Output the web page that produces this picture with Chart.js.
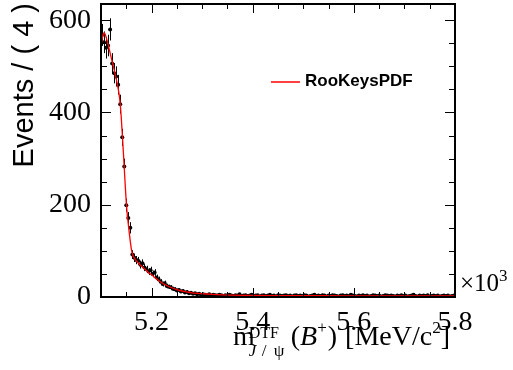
<!DOCTYPE html>
<html>
<head>
<meta charset="utf-8">
<script src="https://cdn.jsdelivr.net/npm/chart.js@4"></script>
<style>
  html, body { margin: 0; padding: 0; background: #fff; }
  canvas { display: block; }
</style>
</head>
<body>
<canvas id="massChart" width="513" height="370"></canvas>
<script>
// binned data, 4 MeV bins from 5100 to 5800 MeV (bin centres)
const binStart = 5102;
const binWidth = 4;
const counts = [
  568, 552, 540, 545, 580, 506, 485, 478, 460, 418,
  346, 283, 199, 171, 150, 92, 85, 80, 78, 70,
  73, 64, 60, 55, 58, 50, 53, 42, 38, 33,
  28, 30, 24, 22, 21, 18, 17, 14, 15, 12,
  13, 10, 11, 8, 9, 7, 8, 6, 7, 5,
  6, 5, 4, 6, 3, 5, 4, 3, 5, 4,
  2, 4, 3, 5, 3, 2, 4, 3, 6, 2,
  3, 4, 2, 3, 5, 2, 3, 4, 1, 3,
  4, 2, 3, 5, 2, 3, 1, 4, 3, 2,
  3, 4, 2, 3, 1, 3, 4, 2, 3, 2,
  4, 3, 1, 2, 3, 5, 2, 3, 2, 4,
  3, 1, 3, 2, 4, 3, 2, 1, 3, 4,
  2, 3, 2, 5, 3, 2, 1, 3, 2, 4,
  2, 3, 1, 2, 4, 3, 2, 3, 1, 2,
  4, 3, 2, 3, 2, 1, 3, 2, 4, 2,
  3, 1, 2, 3, 5, 2, 1, 3, 2, 3,
  2, 4, 1, 2, 3, 2, 3, 1, 2, 3,
  2, 3, 1, 2, 3
];

// RooKeysPDF curve
const curveMass = [5100, 5104, 5106, 5108, 5112, 5116, 5120, 5124, 5128, 5132,
  5136, 5138, 5140, 5142, 5144, 5146, 5148, 5150, 5152, 5154,
  5156, 5158, 5160, 5162, 5164, 5168, 5172, 5176, 5180, 5185,
  5190, 5195, 5200, 5210, 5220, 5230, 5240, 5250, 5260, 5270,
  5280, 5290, 5300, 5320, 5340, 5360, 5380, 5400, 5450, 5500,
  5550, 5600, 5650, 5700, 5750, 5800];
const curveValues = [545, 568, 573, 570, 556, 538, 520, 502, 483, 463,
  438, 418, 390, 355, 318, 280, 240, 205, 178, 158,
  138, 120, 104, 94, 88, 81, 76, 71, 67, 62,
  57, 52, 48, 39, 31, 25, 20, 16, 13, 11,
  9, 8, 7, 5.5, 4.5, 4, 3.6, 3.3, 3, 2.8,
  2.7, 2.6, 2.6, 2.5, 2.5, 2.5];

const xTicks = [5200, 5400, 5600, 5800];
const yTicks = [0, 200, 400, 600];
const xMinorStep = 50;
const yMinorStep = 50;

const points = counts.map((c, i) => ({ x: binStart + i * binWidth, y: c }));
const curve = curveMass.map((m, i) => ({ x: m, y: curveValues[i] }));

const serif = '"Liberation Serif", "DejaVu Serif", serif';
const sans = '"Liberation Sans", Arial, sans-serif';

// vertical sqrt(N) error bars under the markers
const errorBars = {
  id: 'errorBars',
  beforeDatasetsDraw(chart) {
    const { ctx, scales: { x, y } } = chart;
    ctx.save();
    ctx.strokeStyle = '#000';
    ctx.lineWidth = 1;
    counts.forEach((c, i) => {
      const m = binStart + i * binWidth;
      const e = Math.sqrt(c);
      const px = Math.round(x.getPixelForValue(m)) + 0.5;
      ctx.beginPath();
      ctx.moveTo(px, y.getPixelForValue(c + e));
      ctx.lineTo(px, Math.min(y.getPixelForValue(Math.max(c - e, 0)), y.bottom));
      ctx.moveTo(x.getPixelForValue(m - binWidth / 2), y.getPixelForValue(c));
      ctx.lineTo(x.getPixelForValue(m + binWidth / 2), y.getPixelForValue(c));
      ctx.stroke();
    });
    ctx.restore();
  }
};

// ROOT style frame, inward ticks, titles and legend
const rootFrame = {
  id: 'rootFrame',
  afterDraw(chart) {
    const { ctx, chartArea: a, scales: { x, y } } = chart;
    ctx.save();
    ctx.strokeStyle = '#000';
    ctx.lineWidth = 1;
    ctx.beginPath();
    for (let v = x.min; v <= x.max + 0.01; v += xMinorStep) {
      const px = Math.round(x.getPixelForValue(v)) + 0.5;
      const len = xTicks.includes(v) ? 9 : 5;
      ctx.moveTo(px, a.bottom); ctx.lineTo(px, a.bottom - len);
      ctx.moveTo(px, a.top); ctx.lineTo(px, a.top + len);
    }
    for (let v = y.min; v <= y.max; v += yMinorStep) {
      const py = Math.round(y.getPixelForValue(v)) + 0.5;
      const len = yTicks.includes(v) ? 10 : 6;
      ctx.moveTo(a.left, py); ctx.lineTo(a.left + len, py);
      ctx.moveTo(a.right, py); ctx.lineTo(a.right - len, py);
    }
    ctx.stroke();

    ctx.lineWidth = 2;
    ctx.strokeRect(a.left, a.top, a.right - a.left, a.bottom - a.top);

    ctx.fillStyle = '#000';
    // y title
    ctx.save();
    ctx.translate(33, 3);
    ctx.rotate(-Math.PI / 2);
    ctx.font = '29px ' + sans;
    ctx.textAlign = 'right';
    ctx.textBaseline = 'alphabetic';
    ctx.fillText('Events / ( 4 )', 0, 0);
    ctx.restore();

    // x10^3 multiplier
    ctx.textAlign = 'left';
    ctx.textBaseline = 'alphabetic';
    ctx.font = '25px ' + serif;
    ctx.fillText('\u00d710', a.right + 5, 291);
    const w10 = ctx.measureText('\u00d710').width;
    ctx.font = '17px ' + serif;
    ctx.fillText('3', a.right + 5 + w10, 281);

    // x title
    const base = 345;
    let tx = 233;
    ctx.font = '28px ' + serif;
    ctx.fillText('m', tx, base);
    tx += ctx.measureText('m').width - 6;
    ctx.font = '16px ' + serif;
    ctx.fillText('DTF', tx, base - 7);
    ctx.font = 'italic 17px ' + serif;
    ctx.fillText('J', tx, base + 11);
    ctx.font = '17px ' + serif;
    ctx.fillText('/', tx + 13, base + 11);
    ctx.fillText('\u03c8', tx + 25, base + 11);
    tx += 42;
    ctx.font = '28px ' + serif;
    ctx.fillText('(', tx, base);
    tx += ctx.measureText('(').width;
    ctx.font = 'italic 28px ' + serif;
    ctx.fillText('B', tx, base);
    tx += ctx.measureText('B').width;
    ctx.font = '17px ' + serif;
    ctx.fillText('+', tx, base - 12);
    tx += ctx.measureText('+').width + 1;
    ctx.font = '28px ' + serif;
    ctx.fillText(')', tx, base);
    tx += ctx.measureText(')').width + 8;
    ctx.fillText('[MeV/c', tx, base);
    tx += ctx.measureText('[MeV/c').width;
    ctx.font = '17px ' + serif;
    ctx.fillText('2', tx, base - 12);
    tx += ctx.measureText('2').width;
    ctx.font = '28px ' + serif;
    ctx.fillText(']', tx, base);

    // legend
    ctx.strokeStyle = 'red';
    ctx.lineWidth = 1.5;
    ctx.beginPath();
    ctx.moveTo(271, 82);
    ctx.lineTo(300, 82);
    ctx.stroke();
    ctx.font = 'bold 17px ' + sans;
    ctx.textBaseline = 'middle';
    ctx.fillText('RooKeysPDF', 305, 81);
    ctx.restore();
  }
};

new Chart(document.getElementById('massChart'), {
  type: 'scatter',
  data: {
    datasets: [
      {
        label: 'RooKeysPDF',
        data: curve,
        showLine: true,
        borderColor: 'red',
        borderWidth: 1.3,
        pointRadius: 0,
        cubicInterpolationMode: 'monotone',
        fill: false
      },
      {
        label: 'data',
        data: points,
        showLine: false,
        pointStyle: 'circle',
        pointRadius: 2,
        backgroundColor: '#000',
        borderColor: '#000',
        borderWidth: 0
      }
    ]
  },
  options: {
    responsive: false,
    animation: false,
    layout: { padding: { top: 4, right: 58, left: 0, bottom: 0 } },
    plugins: { legend: { display: false }, tooltip: { enabled: false } },
    scales: {
      x: {
        type: 'linear',
        min: 5100,
        max: 5800,
        grid: { display: false },
        border: { display: false },
        afterBuildTicks: s => { s.ticks = xTicks.map(v => ({ value: v })); },
        afterFit: s => { s.height = 73; s.paddingLeft = 0; s.paddingRight = 0; },
        ticks: {
          color: '#000',
          font: { family: serif, size: 28 },
          padding: 1,
          maxRotation: 0,
          autoSkip: false,
          callback: v => (v / 1000).toFixed(1)
        }
      },
      y: {
        min: 0,
        max: 635,
        grid: { display: false },
        border: { display: false },
        afterBuildTicks: s => { s.ticks = yTicks.map(v => ({ value: v })); },
        afterFit: s => { s.width = 101; s.paddingTop = 0; s.paddingBottom = 0; },
        ticks: {
          color: '#000',
          font: { family: serif, size: 28 },
          padding: 2
        }
      }
    }
  },
  plugins: [errorBars, rootFrame]
});
</script>
</body>
</html>
